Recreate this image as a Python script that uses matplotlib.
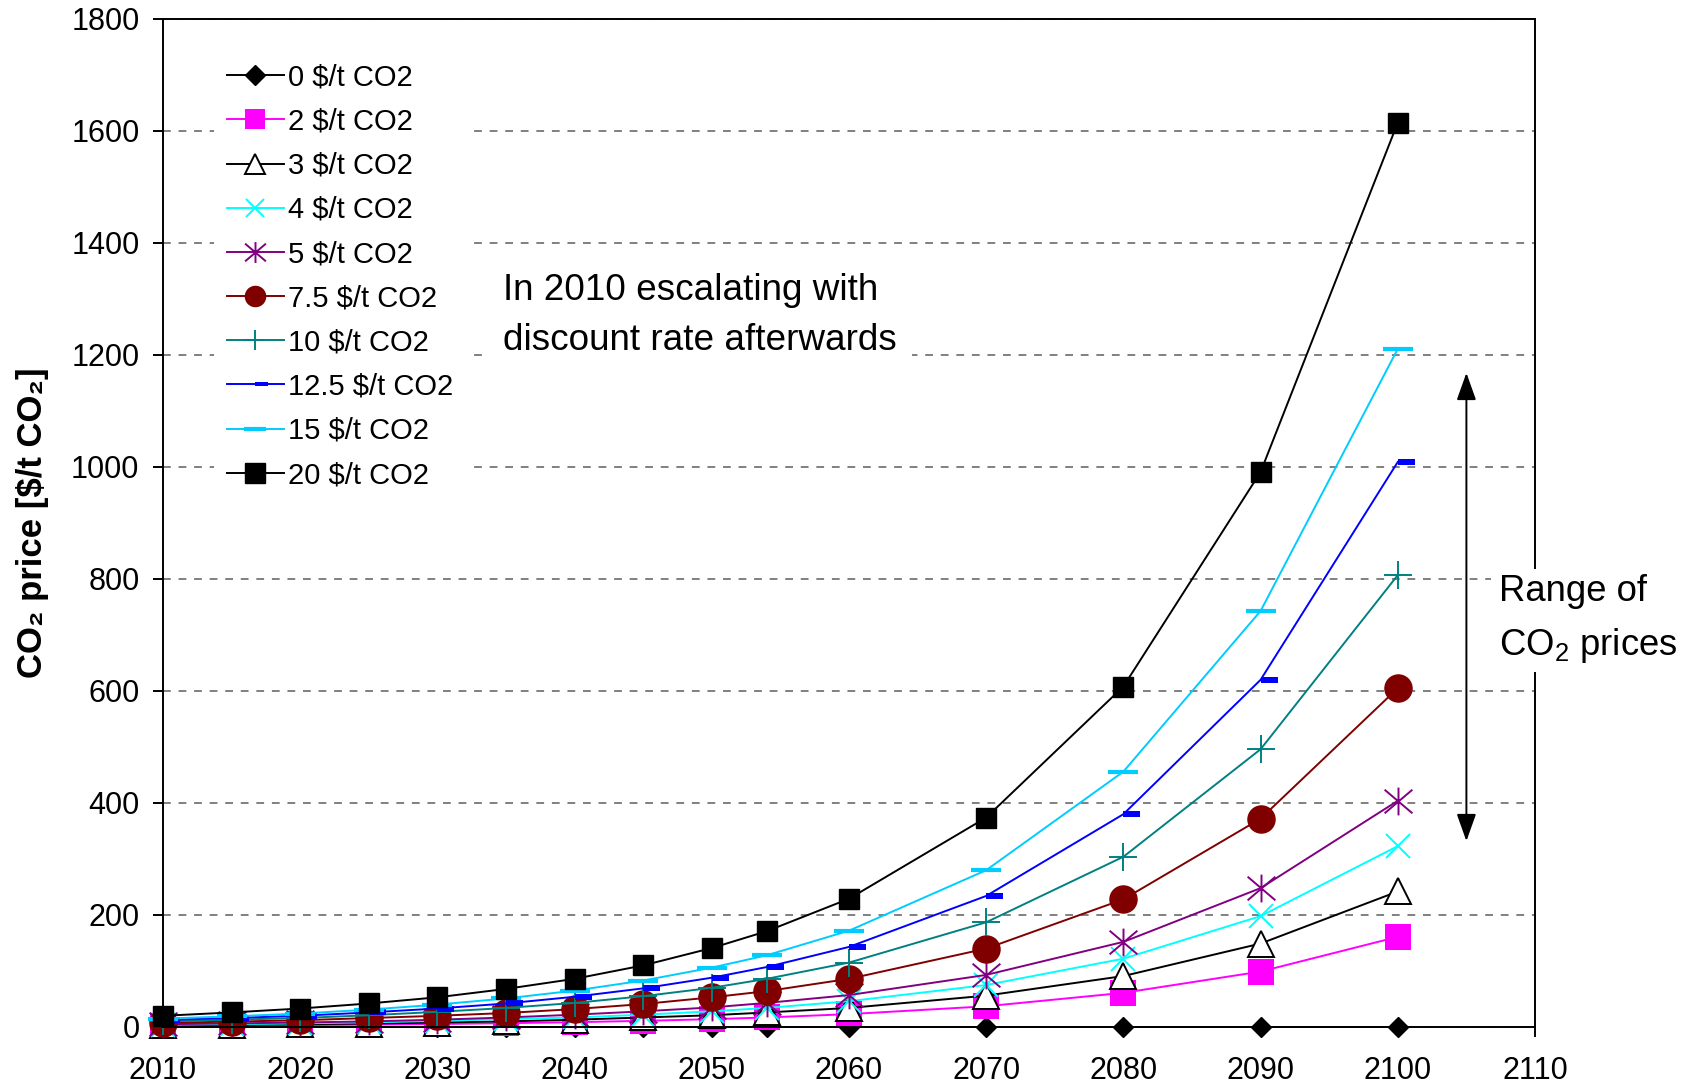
import matplotlib
matplotlib.use("Agg")
import matplotlib.pyplot as plt
from matplotlib.lines import Line2D
from matplotlib.path import Path
from matplotlib.patches import ArrowStyle

plt.rcParams['font.family'] = ['Liberation Sans', 'DejaVu Sans']
plt.rcParams['mathtext.fontset'] = 'custom'
plt.rcParams['mathtext.rm'] = 'Liberation Sans'
plt.rcParams['mathtext.it'] = 'Liberation Sans'

# Years at which the price paths are tabulated
years = [2010, 2015, 2020, 2025, 2030, 2035, 2040, 2045, 2050, 2054, 2060, 2070, 2080, 2090, 2100]

# CO2 price paths [$/t CO2], one per starting price in 2010
price_0 = [0, 0, 0, 0, 0, 0, 0, 0, 0, 0, 0, 0, 0, 0, 0]
price_2 = [2, 2.6, 3.3, 4.2, 5.3, 6.8, 8.6, 11, 14, 17, 23, 37, 61, 99, 161]
price_3 = [3, 3.8, 4.9, 6.2, 8, 10, 13, 17, 21, 26, 34, 56, 91, 149, 242]
price_4 = [4, 5.1, 6.5, 8.3, 11, 14, 17, 22, 28, 34, 46, 75, 122, 198, 323]
price_5 = [5, 6.4, 8.1, 10, 13, 17, 22, 28, 35, 43, 57, 93, 152, 248, 404]
price_7_5 = [7.5, 9.6, 12, 16, 20, 25, 32, 41, 53, 64, 86, 140, 228, 372, 605]
price_10 = [10, 13, 16, 21, 27, 34, 43, 55, 70, 86, 115, 187, 304, 496, 807]
price_12_5 = [12.5, 16, 20, 26, 33, 42, 54, 69, 88, 107, 143, 234, 380, 620, 1009]
price_15 = [15, 19, 24, 31, 40, 51, 65, 83, 106, 128, 172, 280, 456, 743, 1211]
price_20 = [20, 26, 33, 42, 53, 68, 86, 110, 141, 171, 229, 374, 608, 991, 1615]

labels = ['0 $/t CO2', '2 $/t CO2', '3 $/t CO2', '4 $/t CO2', '5 $/t CO2',
          '7.5 $/t CO2', '10 $/t CO2', '12.5 $/t CO2', '15 $/t CO2', '20 $/t CO2']

x_ticks = [2010, 2020, 2030, 2040, 2050, 2060, 2070, 2080, 2090, 2100, 2110]
y_ticks = [0, 200, 400, 600, 800, 1000, 1200, 1400, 1600, 1800]

# custom marker shapes
asterisk = Path([(0, -1), (0, 1), (-1, -0.85), (1, 0.85), (-1, 0.85), (1, -0.85)],
                [Path.MOVETO, Path.LINETO, Path.MOVETO, Path.LINETO, Path.MOVETO, Path.LINETO])
right_dash = Path([(0, -0.15), (1, -0.15), (1, 0.15), (0, 0.15), (0, -0.15)],
                  [Path.MOVETO, Path.LINETO, Path.LINETO, Path.LINETO, Path.CLOSEPOLY])

LW = 1.4
# (values, line colour, marker, plot marker kwargs, legend marker kwargs)
styles = [
    (price_0, 'black', 'D', dict(ms=10, mfc='black', mec='black'), dict(ms=10)),
    (price_2, '#FF00FF', 's', dict(ms=19, mfc='#FF00FF', mec='#FF00FF', mew=0), dict(ms=14, mew=0)),
    (price_3, 'black', '^', dict(ms=18.5, mfc='white', mec='black', mew=LW), dict(ms=14, mfc='white', mew=LW)),
    (price_4, '#00FFFF', 'x', dict(ms=17, mec='#00FFFF', mew=LW), dict(ms=13, mew=LW)),
    (price_5, '#800080', asterisk, dict(ms=20, mec='#800080', mfc='none', mew=LW), dict(ms=15, mfc='none', mew=LW)),
    (price_7_5, '#800000', 'o', dict(ms=19.5, mfc='#800000', mec='#800000'), dict(ms=14.5)),
    (price_10, '#008080', '+', dict(ms=19.5, mec='#008080', mew=LW), dict(ms=14.5, mew=LW)),
    (price_12_5, '#0000FF', right_dash, dict(ms=24.5, mfc='#0000FF', mec='#0000FF', mew=0), dict(ms=19, mew=0)),
    (price_15, '#00CCFF', '_', dict(ms=21.5, mec='#00CCFF', mew=3), dict(ms=16, mew=3)),
    (price_20, 'black', 's', dict(ms=14.5, mfc='black', mec='black'), dict(ms=14)),
]

fig = plt.figure(figsize=(16.9, 10.86), dpi=100)
ax = fig.add_axes([163 / 1690, 1 - 1027 / 1086, (1535 - 163) / 1690, (1027 - 19) / 1086])

handles = []
for vals, col, mk, pkw, lkw in styles:
    ax.plot(years, vals, color=col, lw=LW, marker=mk, clip_on=False, **pkw)
    hk = dict(mfc=pkw.get('mfc', col), mec=pkw.get('mec', col))
    hk.update(lkw)
    handles.append(Line2D([], [], color=col, lw=LW, marker=mk, **hk))

ax.set_xlim(2010, 2110)
ax.set_ylim(0, 1800)
ax.set_xticks(x_ticks)
ax.set_yticks(y_ticks)
ax.yaxis.grid(True, color='#808080', lw=LW, ls=(0, (4, 4)))
ax.set_axisbelow(True)
for sp in ax.spines.values():
    sp.set_linewidth(LW)
    sp.set_color('black')
ax.tick_params(axis='both', direction='out', length=7, width=LW, labelsize=22)
ax.tick_params(axis='x', pad=14)
ax.tick_params(axis='y', pad=10)

ax.set_ylabel('CO₂ price [$/t CO₂]', fontsize=25, fontweight='bold')
ax.yaxis.set_label_coords(-0.083, 0.5)

leg = ax.legend(handles, labels, loc='upper left', bbox_to_anchor=(0.037, 0.969),
                fontsize=21, frameon=True, facecolor='white', edgecolor='none',
                framealpha=1, fancybox=False, handlelength=1.95, handletextpad=0.15,
                labelspacing=0.555, borderpad=0.45, borderaxespad=0)
leg.set_zorder(5)

ax.text(2034.8, 1270, 'In 2010 escalating with\ndiscount rate afterwards', fontsize=26.6,
        ha='left', va='center', linespacing=1.57, zorder=5,
        bbox=dict(boxstyle='square,pad=0.4', fc='white', ec='none'))

ax.text(2107.35, 728, 'Range of\nCO$_2$ prices', fontsize=26.3, ha='left', va='center',
        linespacing=1.58, clip_on=False, zorder=5,
        bbox=dict(boxstyle='square,pad=0.2', fc='white', ec='none'))

ax.annotate('', xy=(2105, 1168), xytext=(2105, 332),
            arrowprops=dict(arrowstyle=ArrowStyle('<|-|>', head_length=0.7, head_width=0.25),
                            mutation_scale=24, color='black', lw=LW, shrinkA=0, shrinkB=0),
            annotation_clip=False)

fig.savefig('out.png', dpi=100)
